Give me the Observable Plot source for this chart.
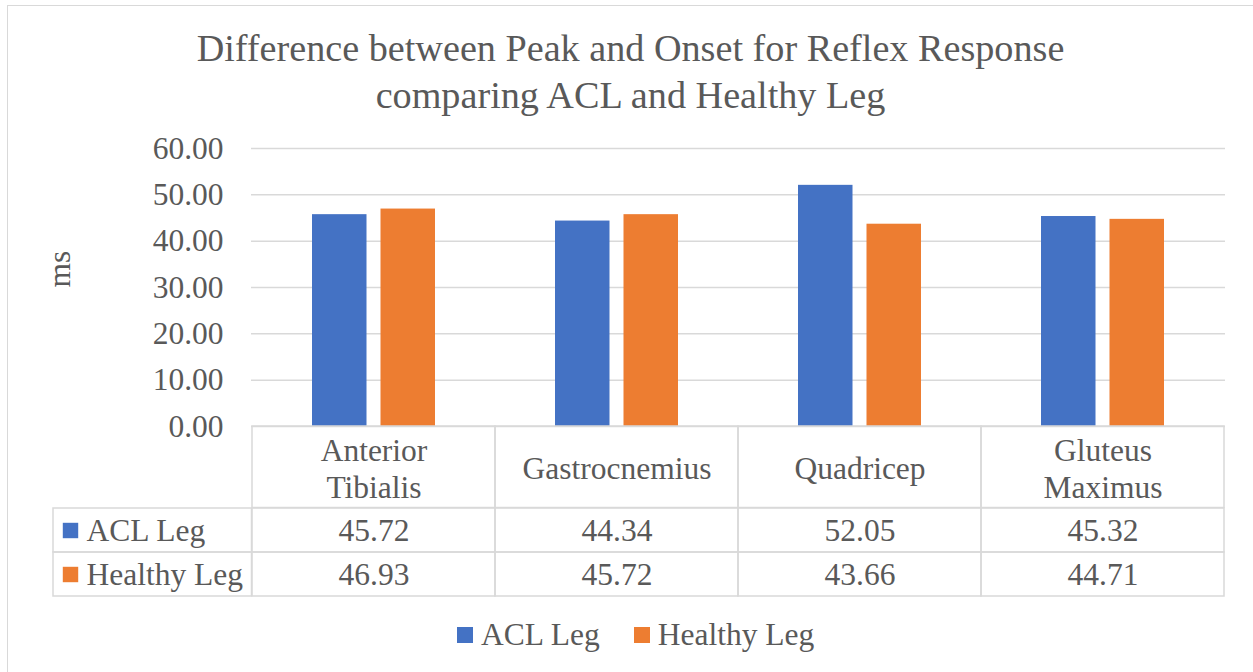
<!DOCTYPE html>
<html>
<head>
<meta charset="utf-8">
<script src="https://cdn.jsdelivr.net/npm/d3@7"></script>
<script src="https://cdn.jsdelivr.net/npm/@observablehq/plot@0.6"></script>
<style>
  body { margin: 0; background: #fff; }
  #chart { position: relative; width: 1253px; height: 672px; overflow: hidden; background: #fff;
           font-family: "Liberation Serif", "Times New Roman", serif; color: #595959; }
  #border { position: absolute; left: 7px; top: 5px; width: 1400px; height: 800px; border: 1px solid #d9d9d9; box-sizing: border-box; }
  #title { position: absolute; left: 7px; top: 24.5px; width: 1247px; text-align: center; font-size: 38.2px; line-height: 47px; white-space: pre; }
  .layer { position: absolute; left: 0; top: 0; }
  #legend { position: absolute; left: 457px; top: 614px; display: flex; align-items: center; font-size: 31.5px; line-height: 42px; }
  #legend .sw { display: inline-block; width: 16px; height: 16px; margin-right: 8px; }
  #legend .item { display: flex; align-items: center; margin-right: 34px; }
</style>
</head>
<body>
<div id="chart">
  <div id="border"></div>
  <div id="title"></div>
  <div id="plotA" class="layer"></div>
  <div id="plotB" class="layer"></div>
  <div id="legend"></div>
</div>
<script>
// ---- data ----
const titleLines = ["Difference between Peak and Onset for Reflex Response", "comparing ACL and Healthy Leg"];
const yLabel = "ms";
const categories = ["Anterior Tibialis", "Gastrocnemius", "Quadricep", "Gluteus Maximus"];
const categoryLabels = ["Anterior\nTibialis", "Gastrocnemius", "Quadricep", "Gluteus\nMaximus"];
const seriesNames = ["ACL Leg", "Healthy Leg"];
const aclLeg = [45.72, 44.34, 52.05, 45.32];
const healthyLeg = [46.93, 45.72, 43.66, 44.71];
const yTicks = [0, 10, 20, 30, 40, 50, 60];
const seriesColors = ["#4472c4", "#ed7d31"];

const FONT = '"Liberation Serif", "Times New Roman", serif';
const TEXT = "#595959";
const GRID = "#d9d9d9";

document.getElementById("title").textContent = titleLines.join("\n");

const seriesValues = [aclLeg, healthyLeg];
const tableRows = [];
seriesNames.forEach((s, si) => categories.forEach((c, ci) => tableRows.push({series: s, category: c, value: seriesValues[si][ci]})));

// ---- Plot A: bars, grid, y axis, category header row ----
const plotA = Plot.plot({
  width: 1253, height: 672,
  marginLeft: 251, marginRight: 28, marginTop: 148, marginBottom: 246,
  style: {background: "transparent", fontFamily: FONT, fontSize: "31.5px", color: TEXT},
  x: {domain: categories, padding: 0, axis: null},
  y: {domain: [0, 60], ticks: yTicks, tickFormat: d => d.toFixed(2), tickSize: 0, tickPadding: 28, label: null},
  marks: [
    Plot.ruleY(yTicks, {stroke: GRID, strokeWidth: 1.5}),
    Plot.barY(categories, {x: d => d, y: (d, i) => aclLeg[i], fill: seriesColors[0], insetLeft: 60, insetRight: 128.5}),
    Plot.barY(categories, {x: d => d, y: (d, i) => healthyLeg[i], fill: seriesColors[1], insetLeft: 128.5, insetRight: 60}),
    Plot.barY(categories, {x: d => d, y1: 0, y2: 0, insetBottom: -81.5, fill: "none", stroke: GRID, strokeWidth: 1.5}),
    Plot.text(categories, {x: d => d, y: 0, dy: 41, text: (d, i) => categoryLabels[i], lineAnchor: "middle", lineHeight: 1.17, fill: TEXT, fontSize: 31.5}),
    Plot.text([yLabel], {frameAnchor: "left", dx: -191.5, rotate: -90, text: d => d, fill: TEXT, fontSize: 31.5})
  ]
});
document.getElementById("plotA").appendChild(plotA);

// ---- Plot B: data table ----
const plotB = Plot.plot({
  width: 1253, height: 672,
  marginLeft: 251, marginRight: 28, marginTop: 507.5, marginBottom: 76.5,
  style: {background: "transparent", fontFamily: FONT, fontSize: "31.5px", color: TEXT},
  x: {domain: categories, padding: 0, axis: null},
  y: {domain: seriesNames, padding: 0, axis: null},
  color: {domain: seriesNames, range: seriesColors},
  marks: [
    Plot.cell(tableRows, {x: "category", y: "series", fill: "none", stroke: GRID, strokeWidth: 1.5}),
    Plot.cell(seriesNames, {x: () => categories[0], y: d => d, insetLeft: -199, insetRight: 243.5, fill: "none", stroke: GRID, strokeWidth: 1.5}),
    Plot.text(tableRows, {x: "category", y: "series", text: d => d.value.toFixed(2), fill: TEXT, fontSize: 31.5}),
    Plot.dot(seriesNames, {y: d => d, frameAnchor: "left", dx: -181, symbol: "square", r: 8.7, fill: d => d, stroke: null}),
    Plot.text(seriesNames, {y: d => d, frameAnchor: "left", dx: -165, textAnchor: "start", text: d => d, fill: TEXT, fontSize: 31.5})
  ]
});
document.getElementById("plotB").appendChild(plotB);

// ---- legend ----
const legend = document.getElementById("legend");
seriesNames.forEach((s, i) => {
  const item = document.createElement("span");
  item.className = "item";
  const sw = document.createElement("span");
  sw.className = "sw";
  sw.style.background = seriesColors[i];
  item.appendChild(sw);
  item.appendChild(document.createTextNode(s));
  legend.appendChild(item);
});
</script>
</body>
</html>
